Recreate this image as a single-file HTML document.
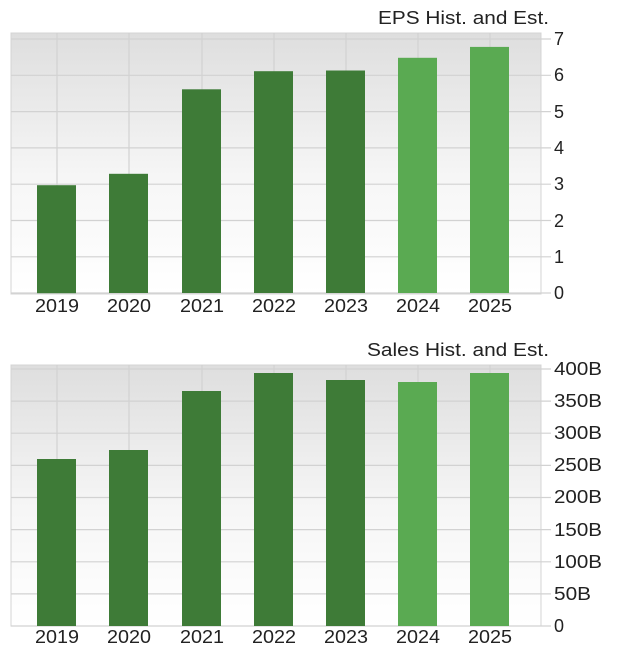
<!DOCTYPE html>
<html><head><style>
html,body{margin:0;padding:0;background:#fff;}
svg{display:block;font-family:"Liberation Sans",sans-serif;}
</style></head><body>
<svg width="620" height="655" viewBox="0 0 620 655">
<defs>
<linearGradient id="bg" x1="0" y1="0" x2="0" y2="1">
<stop offset="0" stop-color="#dedede"/><stop offset="0.55" stop-color="#f6f6f6"/><stop offset="1" stop-color="#ffffff"/>
</linearGradient>
</defs>
<!-- Chart 1 -->
<text x="378" y="24" font-size="18" textLength="171" lengthAdjust="spacingAndGlyphs" fill="#222">EPS Hist. and Est.</text>
<rect x="11" y="33" width="530" height="261" fill="url(#bg)" stroke="#d4d4d4"/>
<g stroke="#d2d2d2" stroke-width="1.2">
<line x1="11" x2="551" y1="39" y2="39"/><line x1="11" x2="551" y1="75.3" y2="75.3"/><line x1="11" x2="551" y1="111.6" y2="111.6"/><line x1="11" x2="551" y1="147.9" y2="147.9"/><line x1="11" x2="551" y1="184.2" y2="184.2"/><line x1="11" x2="551" y1="220.5" y2="220.5"/><line x1="11" x2="551" y1="256.8" y2="256.8"/><line x1="11" x2="551" y1="293" y2="293"/>
<line x1="57" x2="57" y1="33" y2="294"/><line x1="129" x2="129" y1="33" y2="294"/><line x1="202" x2="202" y1="33" y2="294"/><line x1="274" x2="274" y1="33" y2="294"/><line x1="346" x2="346" y1="33" y2="294"/><line x1="418" x2="418" y1="33" y2="294"/><line x1="490" x2="490" y1="33" y2="294"/>
</g>
<g fill="#3e7b37">
<rect x="37" y="185.2" width="39" height="108"/><rect x="109" y="173.8" width="39" height="119.2"/><rect x="182" y="89.3" width="39" height="203.7"/><rect x="254" y="71.2" width="39" height="221.8"/><rect x="326" y="70.5" width="39" height="222.5"/>
</g>
<g fill="#5aaa52"><rect x="398" y="57.8" width="39" height="235.2"/><rect x="470" y="46.9" width="39" height="246.1"/></g>
<g font-size="18" fill="#222">
<text x="554" y="45">7</text><text x="554" y="81">6</text><text x="554" y="118">5</text><text x="554" y="154">4</text><text x="554" y="190">3</text><text x="554" y="227">2</text><text x="554" y="263">1</text><text x="554" y="299">0</text>
<text x="35" y="312" textLength="44" lengthAdjust="spacingAndGlyphs">2019</text><text x="107" y="312" textLength="44" lengthAdjust="spacingAndGlyphs">2020</text><text x="180" y="312" textLength="44" lengthAdjust="spacingAndGlyphs">2021</text><text x="252" y="312" textLength="44" lengthAdjust="spacingAndGlyphs">2022</text><text x="324" y="312" textLength="44" lengthAdjust="spacingAndGlyphs">2023</text><text x="396" y="312" textLength="44" lengthAdjust="spacingAndGlyphs">2024</text><text x="468" y="312" textLength="44" lengthAdjust="spacingAndGlyphs">2025</text>
</g>
<!-- Chart 2 -->
<text x="367" y="356" font-size="18" textLength="182" lengthAdjust="spacingAndGlyphs" fill="#222">Sales Hist. and Est.</text>
<rect x="11" y="365" width="530" height="261" fill="url(#bg)" stroke="#d4d4d4"/>
<g stroke="#d2d2d2" stroke-width="1.2">
<line x1="11" x2="551" y1="369" y2="369"/><line x1="11" x2="551" y1="401.1" y2="401.1"/><line x1="11" x2="551" y1="433.2" y2="433.2"/><line x1="11" x2="551" y1="465.4" y2="465.4"/><line x1="11" x2="551" y1="497.5" y2="497.5"/><line x1="11" x2="551" y1="529.6" y2="529.6"/><line x1="11" x2="551" y1="561.8" y2="561.8"/><line x1="11" x2="551" y1="593.9" y2="593.9"/><line x1="11" x2="551" y1="626" y2="626"/>
<line x1="57" x2="57" y1="365" y2="626"/><line x1="129" x2="129" y1="365" y2="626"/><line x1="202" x2="202" y1="365" y2="626"/><line x1="274" x2="274" y1="365" y2="626"/><line x1="346" x2="346" y1="365" y2="626"/><line x1="418" x2="418" y1="365" y2="626"/><line x1="490" x2="490" y1="365" y2="626"/>
</g>
<g fill="#3e7b37">
<rect x="37" y="459" width="39" height="167"/><rect x="109" y="450" width="39" height="176"/><rect x="182" y="391" width="39" height="235"/><rect x="254" y="373" width="39" height="253"/><rect x="326" y="380" width="39" height="246"/>
</g>
<g fill="#5aaa52"><rect x="398" y="382" width="39" height="244"/><rect x="470" y="373" width="39" height="253"/></g>
<g font-size="18" fill="#222">
<text x="554" y="375" textLength="48" lengthAdjust="spacingAndGlyphs">400B</text><text x="554" y="407" textLength="48" lengthAdjust="spacingAndGlyphs">350B</text><text x="554" y="439" textLength="48" lengthAdjust="spacingAndGlyphs">300B</text><text x="554" y="471" textLength="48" lengthAdjust="spacingAndGlyphs">250B</text><text x="554" y="503" textLength="48" lengthAdjust="spacingAndGlyphs">200B</text><text x="554" y="536" textLength="48" lengthAdjust="spacingAndGlyphs">150B</text><text x="554" y="568" textLength="48" lengthAdjust="spacingAndGlyphs">100B</text><text x="554" y="600" textLength="37" lengthAdjust="spacingAndGlyphs">50B</text><text x="554" y="632">0</text>
<text x="35" y="643" textLength="44" lengthAdjust="spacingAndGlyphs">2019</text><text x="107" y="643" textLength="44" lengthAdjust="spacingAndGlyphs">2020</text><text x="180" y="643" textLength="44" lengthAdjust="spacingAndGlyphs">2021</text><text x="252" y="643" textLength="44" lengthAdjust="spacingAndGlyphs">2022</text><text x="324" y="643" textLength="44" lengthAdjust="spacingAndGlyphs">2023</text><text x="396" y="643" textLength="44" lengthAdjust="spacingAndGlyphs">2024</text><text x="468" y="643" textLength="44" lengthAdjust="spacingAndGlyphs">2025</text>
</g>
</svg>
</body></html>
